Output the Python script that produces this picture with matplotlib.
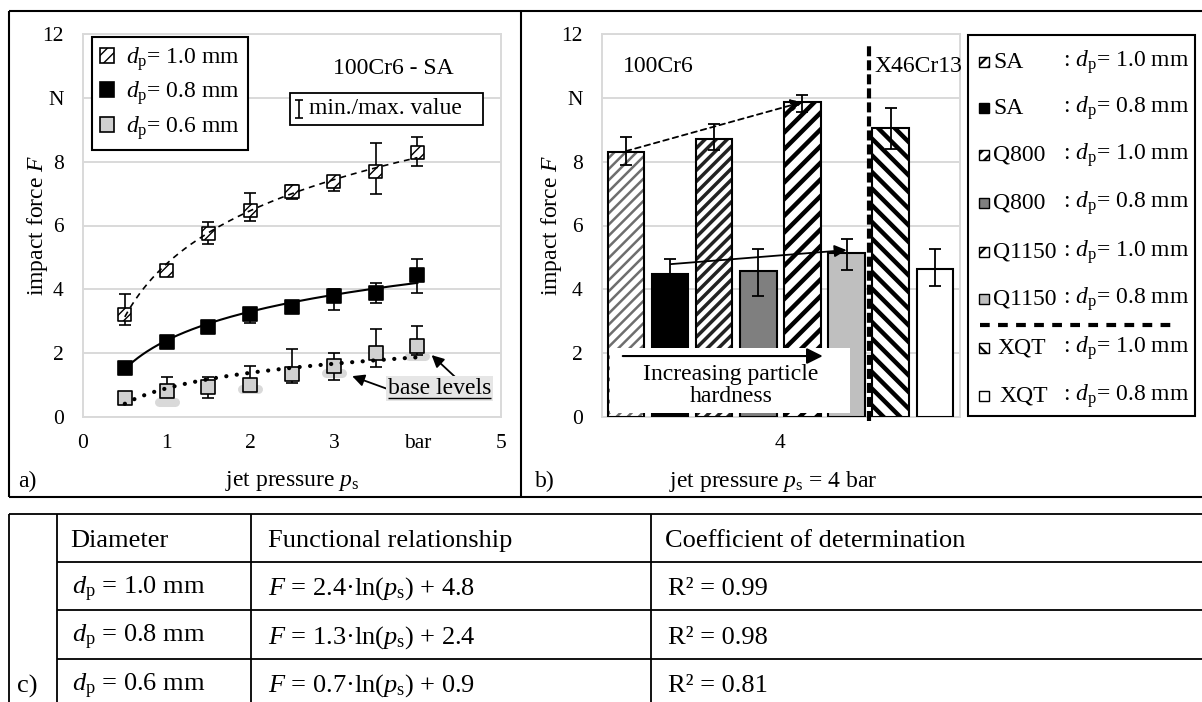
import numpy as np
import matplotlib
matplotlib.use('Agg')
import matplotlib.pyplot as plt
from matplotlib.patches import Rectangle, Patch

plt.rcParams['font.family'] = ['Liberation Serif', 'DejaVu Serif']
plt.rcParams['mathtext.fontset'] = 'custom'
plt.rcParams['mathtext.rm'] = 'Liberation Serif'
plt.rcParams['mathtext.it'] = 'Liberation Serif:italic'
plt.rcParams['mathtext.bf'] = 'Liberation Serif:bold'
plt.rcParams['lines.scale_dashes'] = False

# ---------------- data: panel a ----------------
pressure = [0.5, 1.0, 1.5, 2.0, 2.5, 3.0, 3.5, 4.0]
F_10 = [3.22, 4.60, 5.75, 6.47, 7.08, 7.37, 7.69, 8.30]
F_10_min = [2.88, 4.45, 5.42, 6.15, 6.83, 7.09, 6.99, 7.87]
F_10_max = [3.85, 4.75, 6.12, 7.03, 7.27, 7.53, 8.60, 8.78]
F_08 = [1.55, 2.36, 2.81, 3.22, 3.46, 3.79, 3.89, 4.45]
F_08_min = [1.45, 2.25, 2.70, 2.93, 3.35, 3.35, 3.58, 3.88]
F_08_max = [1.65, 2.45, 2.90, 3.40, 3.55, 4.00, 4.19, 4.94]
F_06 = [0.60, 0.81, 0.95, 1.00, 1.35, 1.60, 2.00, 2.22]
F_06_min = [0.50, 0.70, 0.59, 0.90, 1.06, 1.16, 1.58, 1.95]
F_06_max = [0.70, 1.25, 1.25, 1.60, 2.13, 2.00, 2.75, 2.85]
# trend-line coefficients F = a*ln(p) + b (from table c)
fit_a = [2.4, 1.3, 0.7]
fit_b = [4.8, 2.4, 0.9]
fit_r2 = ['0.99', '0.98', '0.81']
diam_labels = ['1.0', '0.8', '0.6']
base_p = [1.0, 2.0, 3.0, 4.0]
base_F = [0.48, 0.88, 1.39, 1.91]

# ---------------- data: panel b ----------------
shot_types = ['SA', 'SA', 'Q800', 'Q800', 'Q1150', 'Q1150', 'XQT', 'XQT']
shot_diam = ['1.0', '0.8', '1.0', '0.8', '1.0', '0.8', '1.0', '0.8']
F_b = [8.30, 4.48, 8.70, 4.58, 9.87, 5.13, 9.05, 4.63]
F_b_min = [7.90, 4.00, 8.37, 3.79, 9.55, 4.60, 8.40, 4.10]
F_b_max = [8.78, 4.95, 9.18, 5.26, 10.10, 5.57, 9.68, 5.26]

ytick_vals = [0, 2, 4, 6, 8, 10, 12]
ytick_labels = ['0', '2', '4', '6', '8', 'N', '12']
xtick_vals_a = [0, 1, 2, 3, 4, 5]
xtick_labels_a = ['0', '1', '2', '3', 'bar', '5']

# ---------------- figure ----------------
W, H = 1202, 702
fig = plt.figure(figsize=(W / 100, H / 100), dpi=100)


def ax_rect(l, t, r, b):
    return [l / W, 1 - b / H, (r - l) / W, (b - t) / H]


axa = fig.add_axes(ax_rect(83, 34, 501, 417))
axb = fig.add_axes(ax_rect(602, 34, 960, 417))
GRID = '#d9d9d9'
TICK_FS = 15.5
FS = 17

for ax in (axa, axb):
    ax.set_ylim(0, 12)
    ax.set_yticks(ytick_vals)
    ax.set_yticklabels(ytick_labels)
    ax.grid(axis='y', color=GRID, lw=1.4)
    ax.set_axisbelow(True)
    for s in ax.spines.values():
        s.set_color(GRID)
        s.set_linewidth(1.4)
    ax.tick_params(length=0, labelsize=TICK_FS)
    ax.tick_params(axis='y', pad=14)
    ax.tick_params(axis='x', pad=12)
    ax.set_ylabel('impact force $F$', fontsize=FS, va='center')

axa.yaxis.set_label_coords((38 - 83) / 418, 0.5)
axb.yaxis.set_label_coords((551 - 602) / 358, 0.5)

# ---------------- panel a ----------------
axa.set_xlim(0, 5)
axa.set_xticks(xtick_vals_a)
axa.set_xticklabels(xtick_labels_a)
axa.set_xlabel('jet pressure $p_\\mathrm{s}$', fontsize=FS, va='center')
axa.xaxis.set_label_coords(0.5, (417 - 481) / 383)

for p, f in zip(base_p, base_F):
    axa.plot([p - 0.095, p + 0.095], [f, f], lw=6.5, color=GRID,
             solid_capstyle='round', zorder=2)

series = [
    (F_10, F_10_min, F_10_max, 'white', '///', (0, (4.3, 3.6)), 1.2),
    (F_08, F_08_min, F_08_max, 'black', '', '-', 1.5),
    (F_06, F_06_min, F_06_max, '#d0d0d0', '', (0, (0.1, 7.5)), 3.0),
]
p_fit = np.linspace(0.5, 4.0, 200)
for k, (F, Fmin, Fmax, fc, hatch, ls, lw) in enumerate(series):
    F = np.array(F)
    yerr = [F - np.array(Fmin), np.array(Fmax) - F]
    axa.errorbar(pressure, F, yerr=yerr, fmt='none', ecolor='black',
                 elinewidth=1.2, capsize=4.4, capthick=1.2, zorder=3)
    axa.scatter(pressure, F, marker='s', s=88, facecolor=fc,
                edgecolor='black', hatch=hatch if hatch else None,
                linewidths=1.2, zorder=4)
    line, = axa.plot(p_fit, fit_a[k] * np.log(p_fit) + fit_b[k], color='black',
                     lw=lw, ls=ls, zorder=5)
    if k == 2:
        line.set_dash_capstyle('round')

handles = [Patch(facecolor='white', edgecolor='black', hatch='///', lw=1.2),
           Patch(facecolor='black', edgecolor='black', lw=1.2),
           Patch(facecolor='#d0d0d0', edgecolor='black', lw=1.2)]
labels = ['$d_\\mathrm{p}$= %s mm' % d for d in diam_labels]
leg = axa.legend(handles, labels, loc='upper left',
                 bbox_to_anchor=((92 - 83) / 418, (417 - 37) / 383),
                 borderaxespad=0, fontsize=FS, frameon=True, fancybox=False,
                 handlelength=0.6, handleheight=0.6, handletextpad=0.5,
                 labelspacing=0.28, borderpad=0.35, framealpha=1)
leg.get_frame().set_edgecolor('black')
leg.get_frame().set_linewidth(1.5)

axa.annotate('', xy=(3.22, 1.28), xytext=(3.64, 0.88),
             arrowprops=dict(arrowstyle='-|>', color='black', lw=1.3,
                             mutation_scale=18, shrinkA=0, shrinkB=0), zorder=6)
axa.annotate('', xy=(4.17, 1.94), xytext=(4.49, 1.16),
             arrowprops=dict(arrowstyle='-|>', color='black', lw=1.3,
                             mutation_scale=18, shrinkA=0, shrinkB=0), zorder=6)

# ---------------- panel b ----------------
n = len(F_b)
pos = np.arange(n) - (n - 1) / 2
axb.set_xlim(-4.04, 4.07)
axb.set_xticks([0])
axb.set_xticklabels(['4'])
axb.set_xlabel('jet pressure $p_\\mathrm{s}$ = 4 bar', fontsize=FS, va='center')
axb.xaxis.set_label_coords((773 - 602) / 358, (417 - 481) / 383)

bar_style = [
    ('white', '///', '#6e6e6e', 1.8),
    ('black', None, 'black', 1.0),
    ('white', '///', '#222222', 2.5),
    ('#7f7f7f', None, 'black', 1.0),
    ('white', '//', 'black', 3.2),
    ('#bfbfbf', None, 'black', 1.0),
    ('white', '\\\\', 'black', 3.2),
    ('white', None, 'black', 1.0),
]
BW = 0.83
for i in range(n):
    fc, hatch, hc, hlw = bar_style[i]
    with plt.rc_context({'hatch.linewidth': hlw}):
        bars = axb.bar(pos[i], F_b[i], width=BW, color=fc, edgecolor=hc,
                       hatch=hatch, lw=0, zorder=2)
        for b in bars:
            if hasattr(b, 'set_hatch_linewidth'):
                b.set_hatch_linewidth(hlw)
    axb.bar(pos[i], F_b[i], width=BW, fill=False, edgecolor='black',
            lw=1.5, zorder=3)

F_b_arr = np.array(F_b)
axb.errorbar(pos, F_b_arr, yerr=[F_b_arr - np.array(F_b_min), np.array(F_b_max) - F_b_arr],
             fmt='none', ecolor='black', elinewidth=1.3, capsize=4.5, capthick=1.3, zorder=5)

axb.plot([2.0, 2.0], [-0.12, 11.72], color='black', lw=3.0, ls=(0, (7.2, 2.9)),
         clip_on=False, zorder=6)

axb.add_patch(Rectangle((-3.86, 0.12), 1.575 + 3.86, 2.04, facecolor='white',
                        edgecolor='none', zorder=6))
axb.annotate('', xy=(0.96, 1.91), xytext=(-3.57, 1.91),
             arrowprops=dict(arrowstyle='-|>', color='black', lw=1.5,
                             mutation_scale=24, shrinkA=0, shrinkB=0), zorder=7)
axb.text(-1.12, 0.98, 'Increasing particle\nhardness', ha='center', va='center',
         fontsize=FS, linespacing=1.05, zorder=7)

axb.annotate('', xy=(0.51, 9.87), xytext=(-3.5, 8.33),
             arrowprops=dict(arrowstyle='-|>', color='black', lw=1.3, ls=(0, (4, 3)),
                             mutation_scale=18, shrinkA=0, shrinkB=0), zorder=7)
axb.annotate('', xy=(1.5, 5.23), xytext=(-2.48, 4.79),
             arrowprops=dict(arrowstyle='-|>', color='black', lw=1.3,
                             mutation_scale=18, shrinkA=0, shrinkB=0), zorder=7)

# ---------------- overlay (frames, texts, legend b, table) ----------------
ov = fig.add_axes([0, 0, 1, 1], zorder=10)
ov.set_xlim(0, W)
ov.set_ylim(H, 0)
ov.axis('off')
ov.patch.set_visible(False)
LW = 1.5


def hline(y, x0, x1, lw=LW, **kw):
    ov.plot([x0, x1], [y, y], color='black', lw=lw, solid_capstyle='butt', **kw)


def vline(x, y0, y1, lw=LW, **kw):
    ov.plot([x, x], [y0, y1], color='black', lw=lw, solid_capstyle='butt', **kw)


# frame around a) and b)
hline(11, 9, W)
hline(497, 9, W)
vline(9, 11, 497)
vline(521, 11, 497)
ov.text(18, 481, 'a)', fontsize=FS, va='center', ha='left')
ov.text(535, 481, 'b)', fontsize=FS, va='center', ha='left')

# panel a texts
ov.text(393, 68, '100Cr6 - SA', fontsize=FS, ha='center', va='center')
ov.add_patch(Rectangle((290, 93), 193, 32, facecolor='white', edgecolor='black', lw=1.3))
vline(299, 100, 118, lw=1.2)
hline(100, 295, 303, lw=1.2)
hline(118, 295, 303, lw=1.2)
ov.text(309, 109, 'min./max. value', fontsize=FS, ha='left', va='center')
ov.add_patch(Rectangle((386, 376), 107, 25, facecolor='#e6e6e6', edgecolor='none'))
ov.text(439.5, 388, 'base levels', fontsize=FS, ha='center', va='center')
hline(398, 388, 491, lw=1.0)

# panel b texts
ov.text(658, 67, '100Cr6', fontsize=FS, ha='center', va='center')
ov.text(918, 67, 'X46Cr13', fontsize=FS, ha='center', va='center')

# legend b
ov.add_patch(Rectangle((968, 35), 227, 381, facecolor='white', edgecolor='black', lw=1.5))
leg_y = [62, 108, 155, 203, 252, 299, 348, 396]
leg_name_x = [993, 993, 993, 993, 993, 993, 997, 999]
for i in range(n):
    fc, hatch, hc, hlw = bar_style[i]
    y = leg_y[i]
    with plt.rc_context({'hatch.linewidth': min(hlw, 1.6)}):
        r = Rectangle((979, y - 5), 10, 10, facecolor=fc, edgecolor='black',
                      hatch=hatch, lw=1.0)
        if hasattr(r, 'set_hatch_linewidth'):
            r.set_hatch_linewidth(min(hlw, 1.6))
        ov.add_patch(r)
    ov.text(leg_name_x[i], y, shot_types[i], fontsize=FS, ha='left', va='center')
    ov.text(1063, y, ': $d_\\mathrm{p}$= %s mm' % shot_diam[i], fontsize=FS,
            ha='left', va='center')
ov.plot([980, 1178], [325, 325], color='black', lw=3.0, ls=(0, (7, 6)))

# table c
TFS = 19
hline(514, 9, W, lw=1.3)
for y in (562, 610, 659):
    hline(y, 57, W, lw=1.3)
for x in (9, 57, 251, 651):
    vline(x, 514, H, lw=1.3)
row_y = [541, 589, 637.5, 686]
ov.text(70, row_y[0], 'Diameter', fontsize=TFS, va='center')
ov.text(268, row_y[0], 'Functional relationship', fontsize=TFS, va='center')
ov.text(665, row_y[0], 'Coefficient of determination', fontsize=TFS, va='center')
for k in range(3):
    y = row_y[k + 1]
    ov.text(72, y, '$d_\\mathrm{p}$ = %s mm' % diam_labels[k], fontsize=TFS, va='center')
    ov.text(268, y, '$F$ = %.1f\u00b7ln($p_\\mathrm{s}$) + %.1f' % (fit_a[k], fit_b[k]),
            fontsize=TFS, va='center')
    ov.text(668, y, 'R\u00b2 = %s' % fit_r2[k], fontsize=TFS, va='center')
ov.text(17, 686, 'c)', fontsize=TFS, va='center')

fig.savefig('out.png', dpi=100)
